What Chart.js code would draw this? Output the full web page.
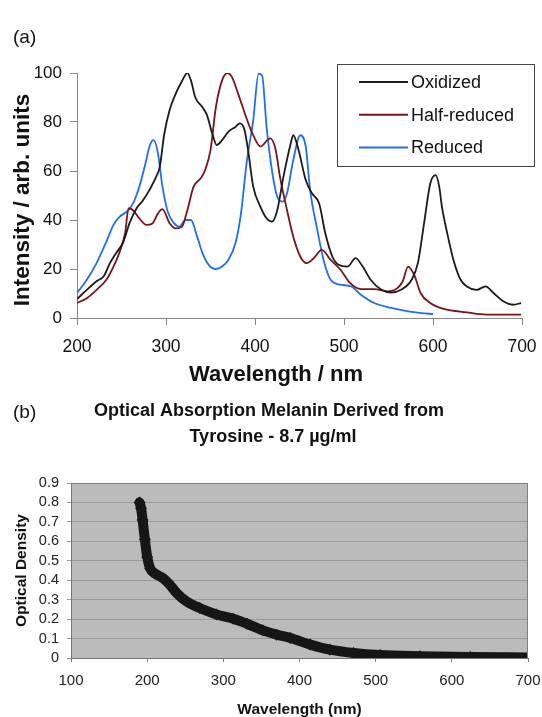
<!DOCTYPE html>
<html lang="en">
<head>
<meta charset="UTF-8">
<title>Melanin spectra</title>
<script src="https://cdn.jsdelivr.net/npm/chart.js"></script>
<style>
  body { margin: 0; background: #fff; }
  #wrap { position: relative; width: 542px; height: 717px; }
  #chartA { position: absolute; left: 0; top: 0; }
  #chartB { position: absolute; left: 0; top: 390px; }
</style>
</head>
<body>
<div id="wrap">
  <canvas id="chartA" width="542" height="390"></canvas>
  <canvas id="chartB" width="542" height="327"></canvas>
</div>
<script>
// (a) emission spectra
var oxX = [200, 211, 222, 230, 237, 244, 252, 259, 267, 274, 281, 289, 293, 298, 304, 311, 317, 324, 328, 333,
           341, 346, 352, 357, 363, 370, 378, 383, 388, 392, 398, 406, 413, 419, 425, 432, 440, 443, 449, 457,
           464, 472, 479, 487, 494, 504, 513, 521, 530, 542, 553, 564, 576, 583, 590, 597, 603, 607, 610, 616,
           623, 631, 638, 649, 659, 668, 679, 690, 699];
var oxY = [7.7, 11.5, 15, 17, 22.4, 26.5, 31, 38.7, 44.8, 48, 52, 57.7, 61.7, 75, 84.8, 91.6, 96, 100, 97, 90,
           86, 82.8, 75.3, 70.6, 72.6, 76, 78, 79.4, 77, 69, 53.6, 45.5, 40.7, 39.3, 44, 57.7, 71, 74.6, 68.5, 56.3,
           50.9, 46.8, 34.6, 25, 21.7, 21, 24.4, 21, 15.6, 11.5, 10.4, 11.5, 15.6, 22.4, 38.7, 55, 58.3, 53.6, 45.5, 34.6,
           23.7, 15.6, 12.9, 11.5, 12.9, 10.2, 6.8, 5.4, 6.1];

var halfX = [200, 211, 222, 233, 241, 248, 254, 258, 263, 270, 278, 285, 291, 296, 304, 311, 318, 324, 331, 339,
             344, 350, 356, 363, 369, 374, 381, 391, 398, 406, 417, 423, 428, 436, 443, 451, 458, 466, 475, 485,
             496, 507, 519, 534, 549, 560, 566, 572, 579, 586, 597, 612, 638, 660, 699];
var halfY = [6.1, 8.1, 11.5, 15.6, 21, 27, 34.6, 44.8, 44, 40.7, 38, 38.7, 42.7, 44.4, 38.7, 36.6, 37.3, 44, 53.6, 57,
             60.4, 68.5, 86, 97, 100, 98.4, 91.6, 81, 74.6, 70, 73.3, 69, 57.7, 44, 33.2, 25, 22.4, 24.4, 27.8, 23.7,
             19.7, 14.2, 11.8, 11.8, 10.9, 12.2, 15, 21, 17.5, 10.2, 6.1, 3.7, 2.3, 1.4, 1.4];

var redX = [200, 211, 222, 233, 241, 248, 256, 263, 270, 276, 282, 286, 291, 296, 302, 309, 315, 322, 328, 335,
            341, 348, 356, 363, 370, 378, 384, 391, 398, 404, 408, 413, 419, 425, 431, 436, 443, 451, 457, 462,
            470, 477, 485, 496, 508, 519, 534, 553, 572, 587, 600];
var redY = [10.2, 15.6, 22.4, 31.2, 38, 41.4, 43.4, 46.8, 53.6, 61.7, 70.6, 72.6, 67.2, 53.6, 43.4, 38.7, 37.3, 40, 40, 33.2,
            26.5, 21.7, 20, 21, 23.7, 30.5, 42, 64.5, 80.7, 99.7, 99, 78, 60.4, 49.5, 47.5, 50.9, 64.5, 74.6, 70, 52,
            36, 23.7, 15.6, 13.6, 12.9, 9.5, 6.1, 4.1, 2.7, 2, 1.6];

var seriesNames = ['Oxidized', 'Half-reduced', 'Reduced'];
var xTicksA = [200, 300, 400, 500, 600, 700];
var yTicksA = [0, 20, 40, 60, 80, 100];

// (b) optical density of tyrosine-derived melanin
var odX = [190, 192, 194, 197, 200, 204, 210, 221, 230, 239, 252, 269, 291, 313, 331, 352, 370, 388, 414, 440,
           471, 506, 558, 624, 700];
var odY = [0.80, 0.77, 0.71, 0.61, 0.52, 0.46, 0.435, 0.41, 0.376, 0.333, 0.29, 0.257, 0.224, 0.202, 0.176, 0.142, 0.12, 0.103, 0.069, 0.043,
           0.026, 0.015, 0.009, 0.005, 0.003];
var xTicksB = [100, 200, 300, 400, 500, 600, 700];
var yTicksB = [0, 0.1, 0.2, 0.3, 0.4, 0.5, 0.6, 0.7, 0.8, 0.9];

var FONT = '"Liberation Sans", Arial, sans-serif';

function pts(xs, ys) {
    return xs.map(function (x, i) { return { x: x, y: ys[i] }; });
}

function fixedTicks(list) {
    return function (s) { s.ticks = list.map(function (v) { return { value: v }; }); };
}

function lineSet(label, xs, ys, color) {
    return {
        label: label,
        data: pts(xs, ys),
        borderColor: color,
        borderWidth: 1.8,
        pointRadius: 0,
        tension: 0.3,
        cubicInterpolationMode: 'monotone',
        fill: false
    };
}

// texts and legend for panel (a)
var decorA = {
    id: 'decorA',
    afterDraw: function (chart) {
        var ctx = chart.ctx;
        ctx.save();
        ctx.fillStyle = '#111';
        ctx.textBaseline = 'middle';
        ctx.font = '19px ' + FONT;
        ctx.textAlign = 'left';
        ctx.fillText('(a)', 13, 38);

        ctx.textBaseline = 'alphabetic';
        ctx.textAlign = 'center';
        ctx.font = 'bold 22px ' + FONT;
        ctx.fillText('Wavelength / nm', 276, 381);
        ctx.save();
        ctx.translate(29, 200);
        ctx.rotate(-Math.PI / 2);
        ctx.font = 'bold 22.5px ' + FONT;
        ctx.fillText('Intensity / arb. units', 0, 0);
        ctx.restore();

        // legend box
        ctx.fillStyle = '#fff';
        ctx.fillRect(337.5, 64.5, 197, 102);
        ctx.strokeStyle = '#444';
        ctx.lineWidth = 1;
        ctx.strokeRect(337.5, 64.5, 197, 102);
        ctx.font = '18px ' + FONT;
        ctx.textAlign = 'left';
        ctx.textBaseline = 'middle';
        chart.data.datasets.forEach(function (ds, i) {
            var y = 82 + i * 32.7;
            ctx.strokeStyle = ds.borderColor;
            ctx.lineWidth = 2;
            ctx.beginPath();
            ctx.moveTo(359, y);
            ctx.lineTo(408, y);
            ctx.stroke();
            ctx.fillStyle = '#111';
            ctx.fillText(ds.label, 411, y + 1);
        });
        ctx.restore();
    }
};

new Chart(document.getElementById('chartA').getContext('2d'), {
    type: 'line',
    data: {
        datasets: [
            lineSet(seriesNames[0], oxX, oxY, '#1a1a1a'),
            lineSet(seriesNames[1], halfX, halfY, '#7b1416'),
            lineSet(seriesNames[2], redX, redY, '#1f6ef5')
        ]
    },
    options: {
        responsive: false,
        animation: false,
        layout: { padding: { top: 73, right: 20, left: 0, bottom: 0 } },
        plugins: { legend: { display: false }, tooltip: { enabled: false } },
        scales: {
            x: {
                type: 'linear', min: 200, max: 700,
                afterBuildTicks: fixedTicks(xTicksA),
                ticks: { font: { family: FONT, size: 17.5 }, color: '#111', padding: 12, autoSkip: false, maxRotation: 0 },
                grid: { drawOnChartArea: false, tickLength: 7, color: '#888' },
                border: { color: '#888' },
                afterFit: function (s) { s.height = 72; s.paddingLeft = 0; s.paddingRight = 0; }
            },
            y: {
                min: 0, max: 100,
                afterBuildTicks: fixedTicks(yTicksA),
                ticks: { font: { family: FONT, size: 17 }, color: '#111', padding: 8, autoSkip: false },
                grid: { drawOnChartArea: false, tickLength: 7, color: '#888' },
                border: { color: '#888' },
                afterFit: function (s) { s.width = 77; }
            }
        }
    },
    plugins: [decorA]
});

// grey plot area, frame and titles for panel (b)
var decorB = {
    id: 'decorB',
    beforeDraw: function (chart) {
        var a = chart.chartArea;
        chart.ctx.save();
        chart.ctx.fillStyle = '#bbbbbb';
        chart.ctx.fillRect(a.left, a.top, a.right - a.left, a.bottom - a.top);
        chart.ctx.restore();
    },
    afterDraw: function (chart) {
        var ctx = chart.ctx, a = chart.chartArea;
        ctx.save();
        ctx.strokeStyle = '#808080';
        ctx.lineWidth = 1;
        ctx.beginPath();
        ctx.moveTo(a.left, a.top + 0.5);
        ctx.lineTo(a.right - 0.5, a.top + 0.5);
        ctx.lineTo(a.right - 0.5, a.bottom);
        ctx.stroke();
        ctx.fillStyle = '#111';
        ctx.textBaseline = 'middle';
        ctx.textAlign = 'left';
        ctx.font = '19px ' + FONT;
        ctx.fillText('(b)', 13, 23);
        ctx.textAlign = 'center';
        ctx.font = 'bold 18px ' + FONT;
        ctx.fillText('Optical Absorption Melanin Derived from', 269, 21);
        ctx.fillText('Tyrosine - 8.7 \u00b5g/ml', 273, 47);
        ctx.restore();
    }
};

new Chart(document.getElementById('chartB').getContext('2d'), {
    type: 'line',
    data: {
        datasets: [{
            label: 'Optical Density',
            data: pts(odX, odY),
            borderColor: '#161616',
            backgroundColor: '#161616',
            borderWidth: 10,
            borderCapStyle: 'round',
            borderJoinStyle: 'round',
            tension: 0.3,
            cubicInterpolationMode: 'monotone',
            pointStyle: 'rectRot',
            pointRadius: 6,
            pointBorderWidth: 0
        }]
    },
    options: {
        responsive: false,
        animation: false,
        layout: { padding: { top: 93, right: 14, left: 0, bottom: 0 } },
        plugins: { legend: { display: false }, tooltip: { enabled: false } },
        scales: {
            x: {
                type: 'linear', min: 100, max: 700,
                afterBuildTicks: fixedTicks(xTicksB),
                ticks: { font: { family: FONT, size: 15 }, color: '#222', padding: 10, autoSkip: false, maxRotation: 0 },
                grid: { drawOnChartArea: false, tickLength: 4, color: '#777' },
                border: { color: '#777' },
                title: {
                    display: true, text: 'Wavelength (nm)', color: '#111',
                    font: { family: FONT, size: 15.5, weight: 'bold', lineHeight: 1 }, padding: 0
                },
                afterFit: function (s) { s.height = 59; s.paddingLeft = 0; s.paddingRight = 0; }
            },
            y: {
                min: 0, max: 0.9,
                afterBuildTicks: fixedTicks(yTicksB),
                ticks: {
                    font: { family: FONT, size: 14.5 }, color: '#222', padding: 8, autoSkip: false,
                    callback: function (v) { return String(Math.round(v * 10) / 10); }
                },
                grid: { tickLength: 4, color: '#999' },
                border: { color: '#777' },
                title: {
                    display: true, text: 'Optical Density', color: '#111',
                    font: { family: FONT, size: 15.5, weight: 'bold' }, padding: { top: 12 }
                },
                afterFit: function (s) { s.width = 71; }
            }
        }
    },
    plugins: [decorB]
});
</script>
</body>
</html>
